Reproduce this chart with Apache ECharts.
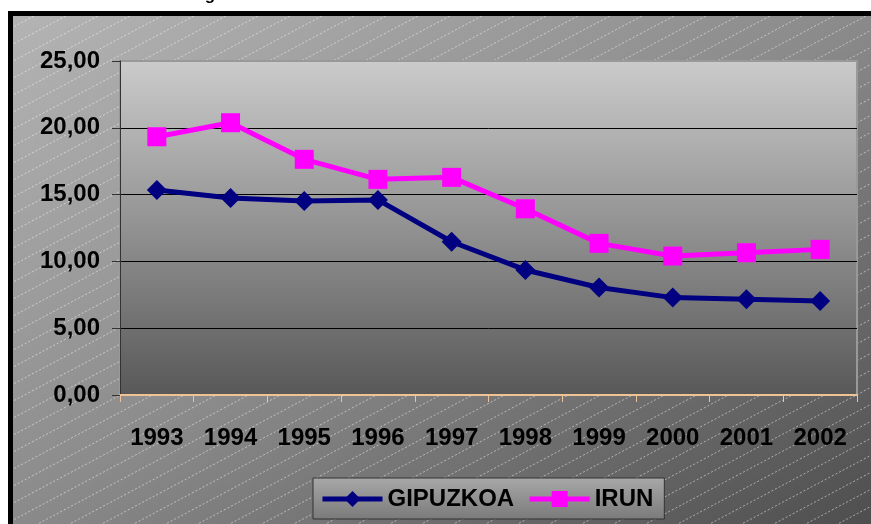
<!DOCTYPE html>
<html>
<head>
<meta charset="utf-8">
<script src="https://cdn.jsdelivr.net/npm/echarts@6/dist/echarts.min.js"></script>
<style>
  html, body { margin: 0; padding: 0; background: #fff; }
  #chart { width: 871px; height: 524px; }
</style>
</head>
<body>
<div id="chart"></div>
<script>
const years = ['1993', '1994', '1995', '1996', '1997', '1998', '1999', '2000', '2001', '2002'];
const gipuzkoa = [15.34, 14.75, 14.52, 14.60, 11.47, 9.36, 8.05, 7.29, 7.17, 7.04];
const irun = [19.33, 20.38, 17.64, 16.14, 16.29, 13.94, 11.35, 10.40, 10.65, 10.90];
const yTicks = ['0,00', '5,00', '10,00', '15,00', '20,00', '25,00'];

// diagonal dashed hatch used on the outer area
function hatch() {
    const c = document.createElement('canvas');
    c.width = 32; c.height = 17;
    const ctx = c.getContext('2d');
    ctx.strokeStyle = 'rgba(255,255,255,0.5)';
    ctx.lineWidth = 1;
    ctx.setLineDash([2, 2]);
    [[0, 0], [-32, 0], [32, 0], [0, -17], [0, 17]].forEach(([dx, dy]) => {
        ctx.beginPath();
        ctx.moveTo(dx, 17 + dy);
        ctx.lineTo(32 + dx, dy);
        ctx.stroke();
    });
    return c;
}

const chart = echarts.init(document.getElementById('chart'));
const font = "'Liberation Sans', Arial, sans-serif";

const option = {
    animation: false,
    backgroundColor: '#fff',
    graphic: [
        { type: 'rect', z: -10, shape: { x: 8, y: 11, width: 900, height: 600 }, style: { fill: '#000' } },
        {
            type: 'rect', z: -9, shape: { x: 13, y: 16, width: 900, height: 600 },
            style: {
                fill: new echarts.graphic.LinearGradient(13, 16, 458, 768, [
                    { offset: 0, color: '#b4b4b4' },
                    { offset: 0.5, color: '#8a8a8a' },
                    { offset: 1, color: '#4e4e4e' }
                ], true)
            }
        },
        { type: 'rect', z: -8, shape: { x: 13, y: 16, width: 900, height: 600 }, style: { fill: { image: hatch(), repeat: 'repeat' } } },
        { type: 'text', z: -7, style: { x: 210, y: 4, text: 'g', font: 'bold 17px ' + font, fill: '#000', align: 'center', verticalAlign: 'bottom' } }
    ],
    grid: {
        left: 120, top: 61, width: 737, height: 334,
        show: true,
        backgroundColor: new echarts.graphic.LinearGradient(0, 0, 0, 1, [
            { offset: 0, color: '#cbcbcb' },
            { offset: 1, color: '#585858' }
        ]),
        borderColor: '#999',
        borderWidth: 2
    },
    legend: {
        left: 313, top: 478,
        padding: [9, 11, 8, 7],
        itemWidth: 60, itemHeight: 20, itemGap: 13,
        lineStyle: { width: 5 },
        backgroundColor: new echarts.graphic.LinearGradient(0, 0, 0, 1, [
            { offset: 0, color: '#a8a8a8' },
            { offset: 1, color: '#7a7a7a' }
        ]),
        borderColor: '#333', borderWidth: 1,
        textStyle: { color: '#000', fontWeight: 'bold', fontSize: 24, fontFamily: font }
    },
    xAxis: {
        type: 'category',
        data: years,
        boundaryGap: true,
        axisLine: { lineStyle: { color: '#efc396', width: 2 } },
        axisTick: { show: true, length: 7, lineStyle: { color: '#efc396', width: 1 } },
        axisLabel: { color: '#000', fontWeight: 'bold', fontSize: 24, fontFamily: font, margin: 31, interval: 0 }
    },
    yAxis: {
        type: 'value',
        min: 0, max: 25, interval: 5,
        axisLine: { show: true, lineStyle: { color: '#333', width: 1 } },
        axisTick: { show: true, length: 8, lineStyle: { color: '#333' } },
        axisLabel: {
            color: '#000', fontWeight: 'bold', fontSize: 24, fontFamily: font, margin: 20,
            formatter: (v) => yTicks[Math.round(v / 5)]
        },
        splitLine: { lineStyle: { color: ['#000', '#000', '#000', '#000', '#000', '#999'], width: 1 } }
    },
    series: [
        {
            name: 'GIPUZKOA', type: 'line', data: gipuzkoa,
            symbol: 'diamond', symbolSize: 20,
            lineStyle: { color: '#000080', width: 5 },
            itemStyle: { color: '#000080' }
        },
        {
            name: 'IRUN', type: 'line', data: irun,
            symbol: 'rect', symbolSize: 19,
            lineStyle: { color: '#ff00ff', width: 5 },
            itemStyle: { color: '#ff00ff' }
        }
    ]
};

chart.setOption(option);
</script>
</body>
</html>
